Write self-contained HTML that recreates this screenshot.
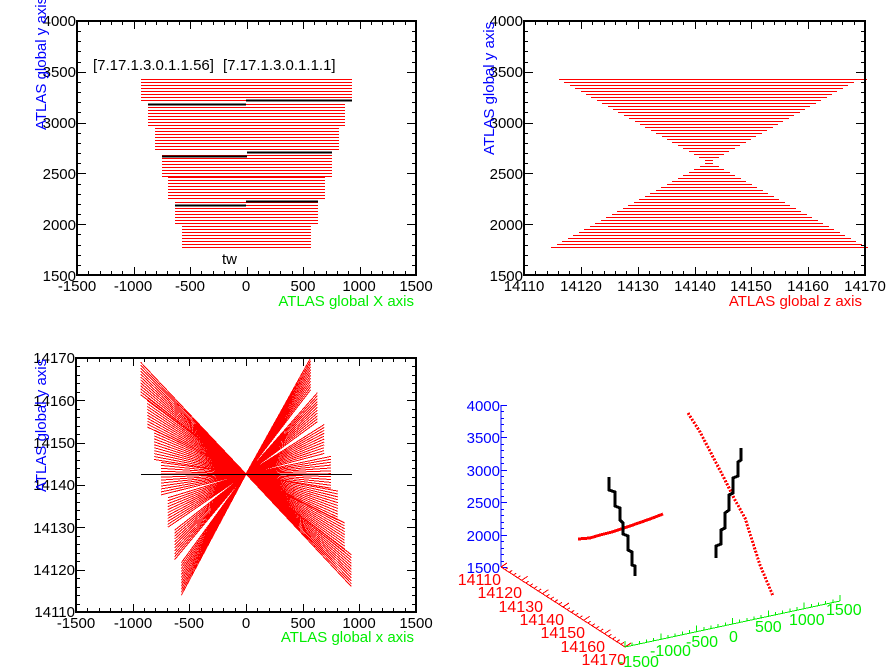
<!DOCTYPE html>
<html><head><meta charset="utf-8">
<style>
html,body{margin:0;padding:0;background:#fff;}
svg{display:block;font-family:"Liberation Sans",Arial,sans-serif;}
</style></head>
<body>
<svg id="s" width="896" height="672" viewBox="0 0 896 672" xmlns="http://www.w3.org/2000/svg">
<rect width="896" height="672" fill="#fff"/>
<g id="data" shape-rendering="crispEdges"></g>
<g id="axes" shape-rendering="crispEdges" stroke="#000" fill="none"></g>
<g font-size="15" fill="#000">
<!-- panel 1 -->
<g text-anchor="end">
<text x="76" y="26">4000</text><text x="76" y="77">3500</text><text x="76" y="128">3000</text>
<text x="76" y="179">2500</text><text x="76" y="230">2000</text><text x="76" y="281">1500</text>
</g>
<g text-anchor="middle">
<text x="77" y="291">-1500</text><text x="133" y="291">-1000</text><text x="190" y="291">-500</text>
<text x="246" y="291">0</text><text x="303" y="291">500</text><text x="359" y="291">1000</text><text x="416" y="291">1500</text>
</g>
<text x="414" y="306" text-anchor="end" fill="#00ee00">ATLAS global X axis</text>
<text transform="translate(46,130) rotate(-90)" fill="#0000ff">ATLAS global y axis</text>
<text x="93" y="70">[7.17.1.3.0.1.1.56]</text>
<text x="223" y="70">[7.17.1.3.0.1.1.1]</text>
<text x="222" y="264">tw</text>
<!-- panel 2 -->
<g text-anchor="end">
<text x="523" y="26">4000</text><text x="523" y="77">3500</text><text x="523" y="128">3000</text>
<text x="523" y="179">2500</text><text x="523" y="230">2000</text><text x="523" y="281">1500</text>
</g>
<g text-anchor="middle">
<text x="524" y="291">14110</text><text x="581" y="291">14120</text><text x="638" y="291">14130</text>
<text x="695" y="291">14140</text><text x="751" y="291">14150</text><text x="808" y="291">14160</text><text x="865" y="291">14170</text>
</g>
<text x="862" y="306" text-anchor="end" fill="#ff0000">ATLAS global z axis</text>
<text transform="translate(494,155) rotate(-90)" fill="#0000ff">ATLAS global y axis</text>
<!-- panel 3 -->
<g text-anchor="end">
<text x="75" y="363">14170</text><text x="75" y="406">14160</text><text x="75" y="448">14150</text>
<text x="75" y="490">14140</text><text x="75" y="533">14130</text><text x="75" y="575">14120</text><text x="75" y="617">14110</text>
</g>
<g text-anchor="middle">
<text x="76" y="628">-1500</text><text x="133" y="628">-1000</text><text x="189" y="628">-500</text>
<text x="246" y="628">0</text><text x="303" y="628">500</text><text x="359" y="628">1000</text><text x="416" y="628">1500</text>
</g>
<text x="414" y="642" text-anchor="end" fill="#00ee00">ATLAS global x axis</text>
<text transform="translate(46,492) rotate(-90)" fill="#0000ff">ATLAS global y axis</text>
<!-- panel 4 -->
<g text-anchor="end" fill="#0000ff">
<text x="500" y="411">4000</text><text x="500" y="443">3500</text><text x="500" y="476">3000</text>
<text x="500" y="508">2500</text><text x="500" y="541">2000</text><text x="500" y="573">1500</text>
</g>
<g text-anchor="end" fill="#ff0000" font-size="16">
<text x="501" y="585">14110</text><text x="522" y="598">14120</text><text x="543" y="612">14130</text>
<text x="564" y="625">14140</text><text x="585" y="638">14150</text><text x="605" y="652">14160</text><text x="626" y="665">14170</text>
</g>
<g fill="#00ee00" font-size="16">
<text x="618" y="667">-1500</text><text x="650" y="656">-1000</text><text x="686" y="647">-500</text>
<text x="729" y="642">0</text><text x="755" y="632">500</text><text x="789" y="625">1000</text><text x="826" y="615">1500</text>
</g>
</g>
</svg>
<script>
(function(){
var NS="http://www.w3.org/2000/svg",D=document.getElementById("data"),A=document.getElementById("axes");
function r(v){return Math.round(v)+0.5;}
function L(g,x1,y1,x2,y2,c,w){var e=document.createElementNS(NS,"line");e.setAttribute("x1",x1);e.setAttribute("y1",y1);e.setAttribute("x2",x2);e.setAttribute("y2",y2);e.setAttribute("stroke",c);e.setAttribute("stroke-width",w||1);g.appendChild(e);}
function H(g,x1,x2,y,c,w){L(g,Math.round(x1),r(y),Math.round(x2),r(y),c,w);}
function P(g,pts,c,w,dash){var e=document.createElementNS(NS,"polyline");e.setAttribute("points",pts.map(function(p){return p.join(",")}).join(" "));e.setAttribute("stroke",c);e.setAttribute("fill","none");e.setAttribute("stroke-width",w||1);if(dash)e.setAttribute("stroke-dasharray",dash);g.appendChild(e);}
function frame(x0,y0,x1,y1,nx,ny){
 var rc=document.createElementNS(NS,"rect");rc.setAttribute("x",x0);rc.setAttribute("y",y0);rc.setAttribute("width",x1-x0);rc.setAttribute("height",y1-y0);rc.setAttribute("stroke","#000");rc.setAttribute("stroke-width","2");A.appendChild(rc);
 for(var i=0;i<=nx*5;i++){var x=r(x0+(x1-x0)*i/(nx*5)),len=(i%5==0)?8:4;L(A,x,y1,x,y1-len,"#000");L(A,x,y0,x,y0+len,"#000");}
 for(var i=0;i<=ny*5;i++){var y=r(y0+(y1-y0)*i/(ny*5)),len=(i%5==0)?9:4;L(A,x0,y,x0+len,y,"#000");L(A,x1,y,x1-len,y,"#000");}
}
frame(77,21,416,275,6,5);
frame(524,21,865,275,6,5);
frame(76,358,416,612,6,6);
var G=[[79,141,352],[104,148,345],[128,155,339],[155,162,332],[177,168,325],[202,175,318],[226,182,311]];
G.forEach(function(g){for(var k=0;k<8;k++){H(D,g[1],g[2],g[0]+k*3,"#ff0000");}});
H(D,246,352,100,"#000",2);H(D,148,246,104,"#000",2);
H(D,247,332,152,"#000",2);H(D,162,247,156,"#000",2);
H(D,246,318,201,"#000",2);H(D,175,246,205,"#000",2);
var cx=709;
for(var i=0;i<28;i++){var y=79+i*3,h=150-i*5.4;H(D,cx-h,cx+h,y,"#ff0000");}
for(var i=0;i<29;i++){var y=163+i*3,h=4+i*5.5;H(D,cx-h,cx+h,y,"#ff0000");}
H(D,859,867,79,"#ff0000");H(D,855,868,247,"#ff0000");
var X=function(v){return 246+v*340/3000},Z=function(z){return 358+(14170-z)*254/60};
var c0=[246,474];
for(var i=0;i<80;i++){var t=i/79,g=Math.min(6,Math.floor(t*7));
 P(D,[c0,[X(-(930-60*g)),Z(14169-55*t)]],"#ff0000",1);
 P(D,[c0,[X(570+60*g),Z(14170-54*t)]],"#ff0000",1);}
H(D,141,352,474,"#000",1);
L(A,501,405,501,567,"#0000ff");
for(var i=0;i<=25;i++){var y=r(405+162*i/25);L(A,501,y,(i%5==0)?507:504,y,"#0000ff");}
L(A,501,567,625,647,"#ff0000");
for(var i=0;i<=30;i++){var t=i/30,x=501+124*t,y=567+80*t;L(A,x,y,x+((i%5==0)?6:3),y-((i%5==0)?4:2),"#ff0000");}
L(A,625,647,840,601,"#00ee00");
for(var i=0;i<=30;i++){var t=i/30,x=625+215*t,y=647-46*t;L(A,x,y,x,y-((i%5==0)?6:3),"#00ee00");}
P(D,[[578,539],[590,538],[600,535],[612,532],[630,526],[650,519],[663,514]],"#ff0000",3);
P(D,[[688,413],[700,432],[712,455],[725,480],[735,500],[745,518],[752,540],[760,565],[773,596]],"#ff0000",3,"2,1.5");
P(D,[[609,477],[609,490],[615,492],[615,506],[620,508],[620,520],[623,523],[623,534],[628,536],[628,550],[632,552],[632,565],[635,566],[635,576]],"#000",3);
P(D,[[741,448],[741,460],[738,462],[738,476],[733,478],[733,493],[729,495],[729,510],[725,513],[725,528],[721,530],[721,544],[716,546],[716,558]],"#000",3);
})();
</script>
</body></html>
